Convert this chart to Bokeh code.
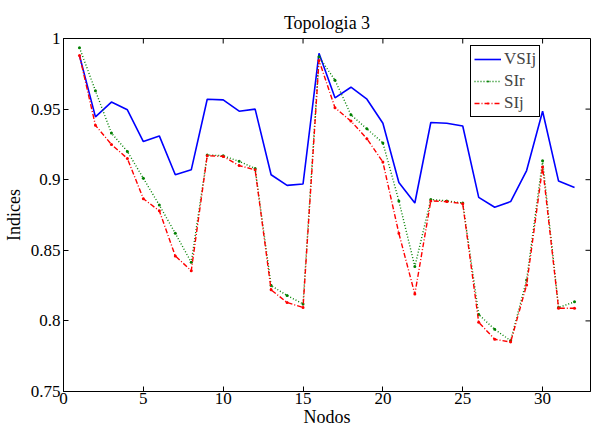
import math
from bokeh.plotting import figure
from bokeh.models import FixedTicker, Range1d, Legend, LegendItem
from bokeh.embed import file_html
from bokeh.resources import INLINE

nodes = list(range(1, 33))
vsij = [0.988, 0.9445, 0.955, 0.9495, 0.927, 0.931, 0.9035, 0.907, 0.957, 0.9565,
        0.9485, 0.950, 0.9035, 0.896, 0.897, 0.9895, 0.958, 0.9655, 0.957, 0.940,
        0.898, 0.8835, 0.9405, 0.940, 0.938, 0.8875, 0.8805, 0.8845, 0.9065, 0.9485,
        0.899, 0.8945]
sir = [0.9935, 0.963, 0.933, 0.920, 0.901, 0.882, 0.862, 0.8415, 0.9175, 0.917,
       0.913, 0.908, 0.825, 0.818, 0.812, 0.987, 0.9705, 0.946, 0.936, 0.926,
       0.885, 0.8385, 0.886, 0.885, 0.8835, 0.8045, 0.794, 0.786, 0.829, 0.9135,
       0.8095, 0.8135]
sij = [0.988, 0.9385, 0.925, 0.915, 0.8865, 0.878, 0.846, 0.8355, 0.917, 0.9165,
       0.910, 0.907, 0.822, 0.813, 0.8095, 0.9845, 0.951, 0.9415, 0.929, 0.9125,
       0.862, 0.819, 0.885, 0.8845, 0.883, 0.799, 0.787, 0.785, 0.8255, 0.909,
       0.809, 0.809]
series_names = ["VSIj", "SIr", "SIj"]
x_limits = (0, 33)
y_limits = (0.75, 1.0)
x_ticks = [0, 5, 10, 15, 20, 25, 30]
y_ticks = [0.75, 0.8, 0.85, 0.9, 0.95, 1.0]
y_tick_labels = ["0.75", "0.8", "0.85", "0.9", "0.95", "1"]
title_text = "Topologia 3"
x_label = "Nodos"
y_label = "Indices"

FONT = "Liberation Serif"

p = figure(width=592, height=429, output_backend="svg", toolbar_location=None,
           x_range=Range1d(*x_limits), y_range=Range1d(*y_limits),
           min_border_left=56, min_border_right=2, min_border_top=38, min_border_bottom=30)
p.title.text = title_text
p.title.text_font = FONT
p.title.text_font_size = "18px"
p.title.text_font_style = "normal"
p.title.align = "center"
p.title.text_color = "black"
p.title.standoff = 11

p.xgrid.visible = False
p.ygrid.visible = False
p.outline_line_color = "black"
p.outline_line_width = 1
p.outline_line_alpha = 1

for ax in (p.xaxis[0], p.yaxis[0]):
    ax.major_tick_in = 5
    ax.major_tick_out = 0
    ax.minor_tick_line_color = None
    ax.axis_line_color = "black"
    ax.major_tick_line_color = "black"
    ax.major_label_text_font = FONT
    ax.major_label_text_font_size = "17px"
    ax.major_label_text_color = "black"
    ax.axis_label_text_font = FONT
    ax.axis_label_text_font_size = "18px"
    ax.axis_label_text_font_style = "normal"
    ax.axis_label_text_color = "black"

p.xaxis[0].ticker = FixedTicker(ticks=x_ticks)
p.yaxis[0].ticker = FixedTicker(ticks=y_ticks)
p.yaxis[0].major_label_overrides = {t: l for t, l in zip(y_ticks, y_tick_labels)}
p.xaxis[0].axis_label = x_label
p.yaxis[0].axis_label = y_label
p.xaxis[0].major_label_standoff = 1
p.yaxis[0].major_label_standoff = 3
p.xaxis[0].axis_label_standoff = 0
p.yaxis[0].axis_label_standoff = 4

# mirrored inward ticks on the top and right edges of the box (clipped to the frame)
p.scatter(x=x_ticks, y=[y_limits[1]] * len(x_ticks), marker="dash", angle=math.pi / 2,
          size=10, line_color="black", line_width=1)
p.scatter(x=[x_limits[1]] * len(y_ticks), y=y_ticks, marker="dash",
          size=10, line_color="black", line_width=1)

r1 = p.line(nodes, vsij, line_color="#0000ff", line_width=1.6)
r2 = p.line(nodes, sir, line_color="#008000", line_width=1.4, line_dash="1 2")
r2m = p.scatter(nodes, sir, marker="dot", size=12, fill_color="#008000", line_color="#008000")
r3 = p.line(nodes, sij, line_color="#ff0000", line_width=1.4, line_dash="5 2 1 2")
r3m = p.scatter(nodes, sij, marker="dot", size=12, fill_color="#ff0000", line_color="#ff0000")

legend = Legend(items=[LegendItem(label=series_names[0], renderers=[r1]),
                       LegendItem(label=series_names[1], renderers=[r2, r2m]),
                       LegendItem(label=series_names[2], renderers=[r3, r3m])],
                location=(407, 274))
legend.label_text_font = FONT
legend.label_text_font_size = "17px"
legend.label_height = 20
legend.glyph_height = 20
legend.glyph_width = 27
legend.label_standoff = 3
legend.padding = 3
legend.spacing = 2
legend.margin = 0
legend.border_line_color = "black"
legend.border_line_width = 1
legend.border_line_alpha = 1
legend.background_fill_alpha = 1
p.add_layout(legend, "center")

open("out.html", "w").write(file_html(p, INLINE))
